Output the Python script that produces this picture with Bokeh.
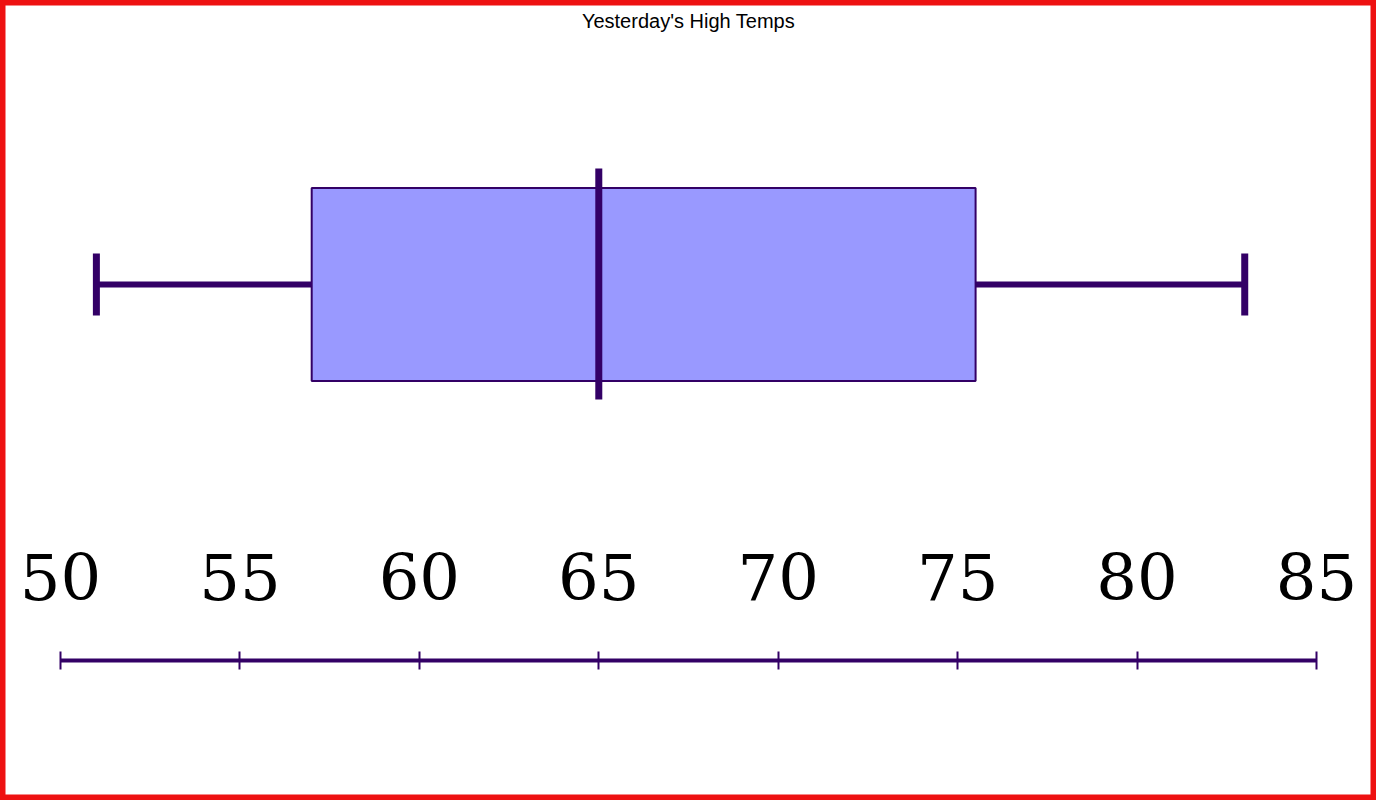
from bokeh.plotting import figure
from bokeh.models import Range1d, LinearAxis, FixedTicker, Label
from bokeh.embed import file_html
from bokeh.resources import INLINE

# Data
title_text = "Yesterday's High Temps"
stat_min = [51]
stat_q1 = [57]
stat_median = [65]
stat_q3 = [75.5]
stat_max = [83]
tick_values = [50, 55, 60, 65, 70, 75, 80, 85]

W, H = 1376, 800
px_per_unit = 35.886

p = figure(width=W, height=H, output_backend="svg", toolbar_location=None,
           x_axis_type=None, y_axis_location=None,
           x_range=Range1d(50 - 60 / px_per_unit, 50 + (W - 60) / px_per_unit),
           y_range=Range1d(284 - H, 284),
           min_border=0, background_fill_color="white", border_fill_color="white")
p.grid.visible = False
p.outline_line_color = "#ee1111"
p.outline_line_width = 10

LINE = "#330066"
y0 = [0]

# whiskers
p.segment(x0=stat_min, y0=y0, x1=stat_q1, y1=y0, line_color=LINE, line_width=6)
p.segment(x0=stat_q3, y0=y0, x1=stat_max, y1=y0, line_color=LINE, line_width=6)
# caps
p.segment(x0=stat_min, y0=[-31], x1=stat_min, y1=[31], line_color=LINE, line_width=7)
p.segment(x0=stat_max, y0=[-31], x1=stat_max, y1=[31], line_color=LINE, line_width=7)
# box
p.hbar(y=y0, left=stat_q1, right=stat_q3, height=193, fill_color="#9999ff",
       line_color=LINE, line_width=2)
# median
p.segment(x0=stat_median, y0=[-115], x1=stat_median, y1=[116], line_color=LINE, line_width=7)

ax = LinearAxis(fixed_location=-376, ticker=FixedTicker(ticks=tick_values),
                bounds=(tick_values[0], tick_values[-1]))
ax.axis_line_color = LINE
ax.axis_line_width = 4
ax.major_tick_line_color = LINE
ax.major_tick_line_width = 2
ax.major_tick_in = 9
ax.major_tick_out = 9
ax.minor_tick_line_color = None
ax.major_label_text_font = "DejaVu Serif"
ax.major_label_text_font_size = "64px"
ax.major_label_text_color = "black"
ax.major_label_standoff = 52
p.add_layout(ax, "above")

p.add_layout(Label(x=67.5, y=264, text=title_text, text_align="center",
                   text_baseline="alphabetic", text_font="Liberation Sans",
                   text_font_size="20px", text_color="black"))

open("out.html", "w").write(file_html(p, INLINE))
